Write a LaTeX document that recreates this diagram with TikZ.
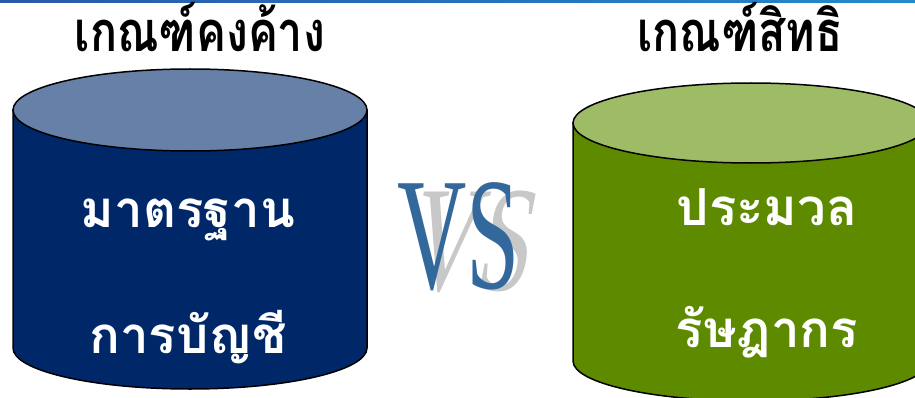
\documentclass[tikz,border=0pt]{standalone}
\usepackage{fontspec}
\setmainfont{Liberation Serif}
\newfontfamily\thaifont[Script=Thai]{Loma}
\newfontfamily\vsfont{Liberation Serif}
\definecolor{navybody}{HTML}{002868}
\definecolor{navytop}{HTML}{6680A8}
\definecolor{greenbody}{HTML}{5E8A00}
\definecolor{greentop}{HTML}{9EBB66}
\definecolor{vsblue}{HTML}{33689C}
\definecolor{vsshadow}{HTML}{C8C8C8}
\definecolor{barleft}{HTML}{2A58A8}
\definecolor{barright}{HTML}{2389CF}
\tikzset{
  heading/.style={font=\thaifont\bfseries\fontsize{56}{62}\selectfont, text=black, anchor=base,
    inner sep=0pt, xscale=0.8, transform shape},
  bodytext/.style={font=\thaifont\bfseries\fontsize{51}{60}\selectfont, text=white, anchor=base, inner sep=0pt},
  rim/.style={draw=black, line width=1.5pt},
  vsletters/.style={font=\vsfont\fontsize{160}{160}\selectfont, anchor=base west, inner sep=0pt},
}
\begin{document}
\begin{tikzpicture}[x=1pt, y=1pt]
  \useasboundingbox (0,0) rectangle (915,397);
  \clip (0,0) rectangle (915,397);

  % thin title bar along the top edge
  \shade[left color=barleft, right color=barright] (0,394) rectangle (915,397);

  % left cylinder
  \path[fill=navybody, rim] (13,287) -- (13,49)
     arc[start angle=180, end angle=360, x radius=177, y radius=41]
     -- (367,287) -- cycle;
  \path[fill=navytop, rim] (190,287) ellipse[x radius=177, y radius=41];

  % right cylinder
  \path[fill=greenbody, rim] (573,274) -- (573,36)
     arc[start angle=180, end angle=360, x radius=178, y radius=40]
     -- (929,274) -- cycle;
  \path[fill=greentop, rim] (751,274) ellipse[x radius=178, y radius=40];

  % headings
  \node[heading] (hleft) at (200,345) {เกณฑ์คงค้าง};
  \node[heading] (hright) at (740,345) {เกณฑ์สิทธิ};

  % cylinder labels
  \node[bodytext] (l1) at (188,170) {มาตรฐาน};
  \node[bodytext] (l2) at (188,44) {การบัญชี};
  \node[bodytext] (r1) at (767,172) {ประมวล};
  \node[bodytext] (r2) at (767,50) {รัษฎากร};

  % VS with a slanted drop shadow
  \node[vsletters, text=vsshadow, xscale=0.6, yscale=0.94, xslant=0.3, transform shape]
        (vsshade) at (404,107) {VS};
  \node[vsletters, text=vsblue, xscale=0.6, transform shape] (vs) at (397,109) {VS};
\end{tikzpicture}
\end{document}
